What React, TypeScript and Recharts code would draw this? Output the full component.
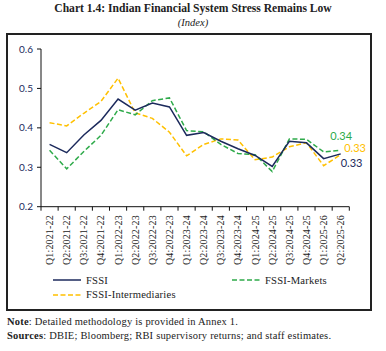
import React from "react";
import { LineChart, Line, XAxis, YAxis } from "recharts";

const categories = [
  "Q1:2021-22", "Q2:2021-22", "Q3:2021-22", "Q4:2021-22",
  "Q1:2022-23", "Q2:2022-23", "Q3:2022-23", "Q4:2022-23",
  "Q1:2023-24", "Q2:2023-24", "Q3:2023-24", "Q4:2023-24",
  "Q1:2024-25", "Q2:2024-25", "Q3:2024-25", "Q4:2024-25",
  "Q1:2025-26", "Q2:2025-26",
];
const fssi = [0.358, 0.337, 0.382, 0.419, 0.473, 0.445, 0.463, 0.453, 0.381, 0.388, 0.366, 0.347, 0.33, 0.302, 0.366, 0.362, 0.322, 0.334];
const markets = [0.343, 0.296, 0.34, 0.381, 0.446, 0.433, 0.469, 0.476, 0.393, 0.39, 0.358, 0.335, 0.332, 0.289, 0.372, 0.371, 0.339, 0.343];
const intermediaries = [0.413, 0.405, 0.437, 0.467, 0.526, 0.438, 0.424, 0.389, 0.329, 0.358, 0.372, 0.369, 0.319, 0.326, 0.352, 0.362, 0.304, 0.332];
const yTicks = [0.2, 0.3, 0.4, 0.5, 0.6];

const data = categories.map((q, i) => ({
  q,
  fssi: fssi[i],
  markets: markets[i],
  intermediaries: intermediaries[i],
}));

const NAVY = "#1c2a5c";
const GREEN = "#2eaa4a";
const GOLD = "#ffc000";
const SERIF = "'Liberation Serif', 'DejaVu Serif', serif";
const SANS = "Lato, 'Open Sans', sans-serif";

const W = 386;
const H = 351;
const PLOT_LEFT = 41;
const PLOT_RIGHT = 349.3;
const PLOT_TOP = 49;
const PLOT_BOTTOM = 206.7;
const X_AXIS_H = 60;
const BAND = (PLOT_RIGHT - PLOT_LEFT) / categories.length;
const LAST = categories.length - 1;

const XTick = (props: any) => {
  const { x, y, payload, index } = props;
  const half = BAND / 2;
  return (
    <g>
      <line x1={x - half} x2={x - half} y1={y} y2={y + 4} stroke="#111" strokeWidth={1} />
      {index === LAST && (
        <line x1={x + half} x2={x + half} y1={y} y2={y + 4} stroke="#111" strokeWidth={1} />
      )}
      <text
        transform={`translate(${x + 3.5},${y + 8.5}) rotate(-90)`}
        textAnchor="end"
        fontFamily={SERIF}
        fontSize={10}
        letterSpacing={0.15}
        fill="#222"
      >
        {payload.value}
      </text>
    </g>
  );
};

const endLabel = (color: string, dx: number, dy: number, anchor: string) => (p: any) => {
  if (p.index !== LAST) return <g />;
  return (
    <text
      x={p.x + dx}
      y={p.y + dy}
      textAnchor={anchor}
      fontFamily={SANS}
      fontSize={11}
      fill={color}
    >
      {Number(p.value).toFixed(2)}
    </text>
  );
};

const legendItems = [
  { name: "FSSI", color: NAVY, dash: undefined as string | undefined, left: 53, top: 280 },
  { name: "FSSI-Markets", color: GREEN, dash: "5 2.5", left: 232, top: 280 },
  { name: "FSSI-Intermediaries", color: GOLD, dash: "5 2.5", left: 53, top: 294.5 },
];

export default function App() {
  return (
    <div
      style={{
        position: "absolute",
        left: 0,
        top: 0,
        width: W,
        height: H,
        background: "#fff",
        fontFamily: SERIF,
        overflow: "hidden",
      }}
    >
      <div
        style={{
          position: "absolute",
          left: 0,
          top: 2,
          width: W,
          textAlign: "center",
          fontWeight: "bold",
          fontSize: 11.6,
          color: "#222",
          whiteSpace: "nowrap",
        }}
      >
        Chart 1.4: Indian Financial System Stress Remains Low
      </div>
      <div
        style={{
          position: "absolute",
          left: 0,
          top: 17,
          width: W,
          textAlign: "center",
          fontStyle: "italic",
          fontSize: 10.5,
          color: "#222",
        }}
      >
        (Index)
      </div>
      <div
        style={{
          position: "absolute",
          left: 6,
          top: 33,
          width: 362,
          height: 274,
          border: "2px solid #222",
        }}
      />
      <LineChart
        width={W}
        height={H}
        data={data}
        style={{ position: "absolute", left: 0, top: 0 }}
        margin={{
          top: PLOT_TOP,
          right: W - PLOT_RIGHT,
          left: PLOT_LEFT - 30,
          bottom: H - PLOT_BOTTOM - X_AXIS_H,
        }}
      >
        <XAxis
          dataKey="q"
          scale="band"
          interval={0}
          height={X_AXIS_H}
          tickLine={false}
          tickSize={0}
          tickMargin={0}
          axisLine={{ stroke: "#111", strokeWidth: 1 }}
          tick={<XTick />}
        />
        <YAxis
          width={30}
          domain={[0.2, 0.6]}
          ticks={yTicks}
          type="number"
          allowDataOverflow
          tickSize={4}
          tickMargin={4}
          tickLine={{ stroke: "#111" }}
          axisLine={{ stroke: "#111", strokeWidth: 1 }}
          tickFormatter={(v: number) => v.toFixed(1)}
          tick={{ fontFamily: SANS, fontSize: 10, fill: NAVY }}
        />
        <Line
          dataKey="intermediaries"
          stroke={GOLD}
          strokeWidth={1.5}
          strokeDasharray="5 2.5"
          dot={false}
          isAnimationActive={false}
          label={endLabel(GOLD, 3.5, -2.5, "start")}
        />
        <Line
          dataKey="markets"
          stroke={GREEN}
          strokeWidth={1.5}
          strokeDasharray="5 2.5"
          dot={false}
          isAnimationActive={false}
          label={endLabel(GREEN, 0.5, -10, "middle")}
        />
        <Line
          dataKey="fssi"
          stroke={NAVY}
          strokeWidth={1.5}
          dot={false}
          isAnimationActive={false}
          label={endLabel(NAVY, 0, 13.5, "start")}
        />
      </LineChart>
      {legendItems.map((it) => (
        <div
          key={it.name}
          style={{ position: "absolute", left: it.left, top: it.top - 7, height: 14, display: "flex", alignItems: "center" }}
        >
          <svg width={28} height={14} style={{ display: "block" }}>
            <line x1={0} x2={28} y1={7} y2={7} stroke={it.color} strokeWidth={1.5} strokeDasharray={it.dash} />
          </svg>
          <span style={{ marginLeft: 5, fontSize: 10.6, letterSpacing: 0.2, color: "#222", whiteSpace: "nowrap" }}>{it.name}</span>
        </div>
      ))}
      <div style={{ position: "absolute", left: 7, top: 316, fontSize: 10.5, letterSpacing: 0.2, color: "#222", whiteSpace: "nowrap" }}>
        <b>Note</b>: Detailed methodology is provided in Annex 1.
      </div>
      <div style={{ position: "absolute", left: 7, top: 330, fontSize: 10.5, letterSpacing: 0.2, color: "#222", whiteSpace: "nowrap" }}>
        <b>Sources</b>: DBIE; Bloomberg; RBI supervisory returns; and staff estimates.
      </div>
    </div>
  );
}
